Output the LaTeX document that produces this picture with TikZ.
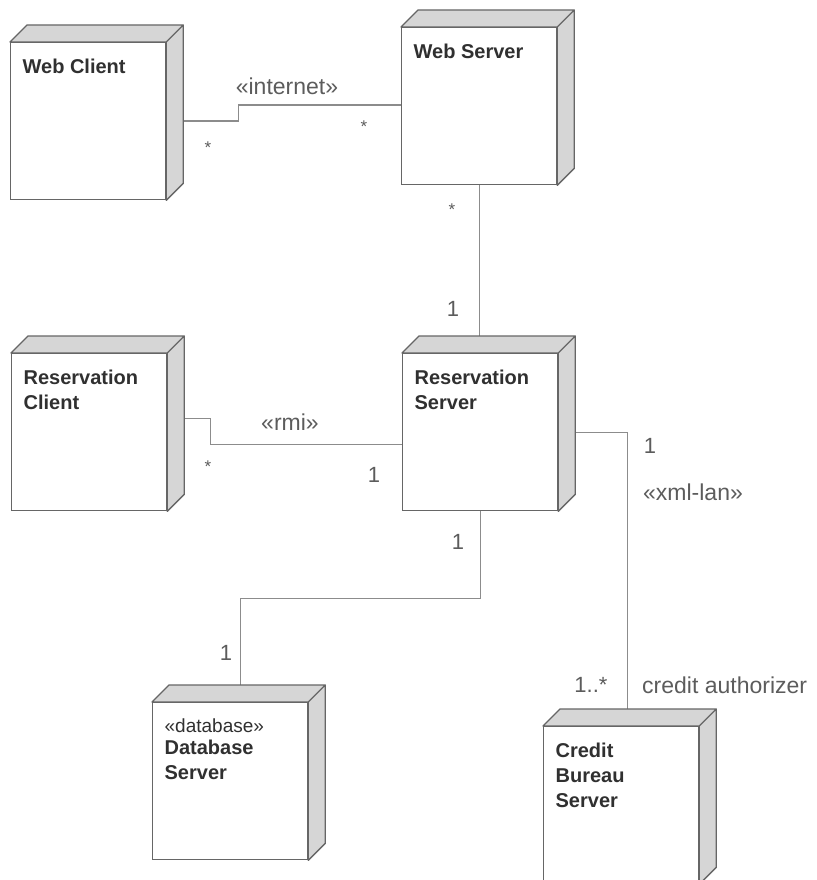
\documentclass[tikz,border=0pt]{standalone}
\usepackage{fontspec}
\setmainfont{Liberation Sans}
\usetikzlibrary{calc,backgrounds}
\definecolor{boxline}{HTML}{666666}
\definecolor{boxshade}{HTML}{D6D6D6}
\definecolor{linkgray}{HTML}{8C8C8C}
\definecolor{nametext}{HTML}{303030}
\definecolor{notetext}{HTML}{5C5C5C}
\tikzset{
    devicebox/.style={draw=boxline, fill=white, line width=1.3pt, anchor=north west, inner xsep=12pt, inner ysep=16pt,
        minimum width=155pt, minimum height=157pt, text=nametext, font=\fontsize{20}{25}\selectfont\bfseries,
        execute at begin node={\begin{minipage}[t][125pt][t]{131pt}\raggedright},
        execute at end node={\end{minipage}},
        append after command={\pgfextra{\let\devnode\tikzlastnode
            \draw[draw=boxline, fill=boxshade, line width=1.3pt, line join=round]
                (\devnode.north west) -- ++(17,-17) -- ($(\devnode.north east)+(17,-17)$) -- (\devnode.north east) -- cycle
                (\devnode.north east) -- ++(17,-17) -- ($(\devnode.south east)+(17,-17)$) -- (\devnode.south east) -- cycle;}}},
    devlink/.style={draw=linkgray, line width=1.3pt},
    linknote/.style={text=notetext, font=\fontsize{23}{23}\selectfont, inner sep=0pt, anchor=base},
    multnote/.style={text=notetext, font=\fontsize{22}{22}\selectfont, inner sep=0pt, anchor=base},
    starnote/.style={text=notetext, font=\fontsize{17}{17}\selectfont, inner sep=0pt, anchor=base}
}

\begin{document}
\begin{tikzpicture}[x=1pt, y=-1pt]
    \useasboundingbox (0,0) rectangle (816,880);

    % nodes
    \node[devicebox] (wclient) at (10,42) {Web Client};
    \node[devicebox] (wserver) at (401,27) {Web Server};
    \node[devicebox] (rclient) at (11,353) {Reservation\\Client};
    \node[devicebox] (rserver) at (402,353) {Reservation\\Server};
    \node[devicebox] (dbserver) at (152,702) {{\fontsize{19}{19}\selectfont\mdseries «database»}\\[-3pt]Database\\Server};
    \node[devicebox] (cbserver) at (543,726) {Credit\\Bureau\\Server};

    % links
    \begin{pgfonlayer}{background}
        \draw[devlink] (wclient.east) -- ++(72,0) |- ($(wserver.west)+(0,-1)$);
        \draw[devlink] (wserver.south) -- (wserver.south |- rserver.north);
        \draw[devlink] ($(rclient.east)+(0,-14)$) -- ++(43,0) |- ($(rserver.west)+(0,12)$);
        \draw[devlink] (rserver.east) -| ($(cbserver.north)+(6,0)$);
        \draw[devlink] (rserver.south) -- ++(0,87) -| ($(dbserver.north)+(10,0)$);
    \end{pgfonlayer}

    % labels
    \node[linknote] (internettag) at (287,95) {«internet»};
    \node[starnote] (wcstar) at (208,153) {*};
    \node[starnote] (wsstar) at (364,132) {*};
    \node[starnote] (wsdownstar) at (452,215) {*};
    \node[multnote] (rsupone) at (453,316) {1};
    \node[linknote] (rmitag) at (290,430) {«rmi»};
    \node[starnote] (rcstar) at (208,472) {*};
    \node[multnote] (rsleftone) at (374,482) {1};
    \node[multnote] (rsdownone) at (458,549) {1};
    \node[multnote] (dbone) at (226,660) {1};
    \node[multnote] (xmlone) at (650,453) {1};
    \node[linknote] (xmltag) at (693,500) {«xml-lan»};
    \node[multnote] (cbmany) at (591,692) {1..*};
    \node[linknote, anchor=base west] (cbrole) at (642,693) {credit authorizer};
\end{tikzpicture}
\end{document}
